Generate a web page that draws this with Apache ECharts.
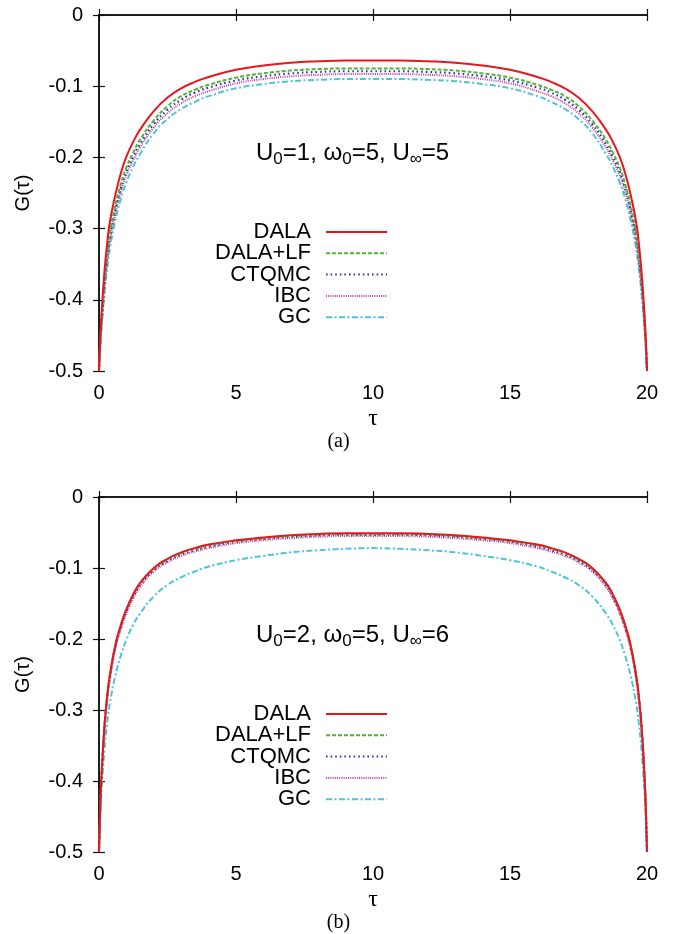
<!DOCTYPE html>
<html>
<head>
<meta charset="utf-8">
<script src="https://cdn.jsdelivr.net/npm/echarts@6/dist/echarts.min.js"></script>
<style>
  html, body { margin: 0; padding: 0; background: #fff; }
  #chart { width: 677px; height: 934px; }
</style>
</head>
<body>
<div id="chart"></div>
<script>
// imaginary-time grid, beta = 20
const tau = [0,0.05,0.1,0.2,0.3,0.4,0.6,0.8,1,1.25,1.5,2,2.5,3,3.5,4,5,6,7,8,9,10,
             11,12,13,14,15,16,16.5,17,17.5,18,18.5,18.75,19,19.2,19.4,19.6,19.7,19.8,19.9,19.95,20];

const seriesNames = ['DALA', 'DALA+LF', 'CTQMC', 'IBC', 'GC'];

// panel (a): U0=1, w0=5, Uinf=5
const topDALA = [-0.5,-0.45,-0.415,-0.36,-0.32,-0.29,-0.252,-0.222,-0.199,-0.178,-0.161,-0.135,-0.116,-0.103,-0.094,-0.087,-0.077,-0.071,-0.067,-0.065,-0.064,-0.064,
                 -0.064,-0.065,-0.067,-0.071,-0.077,-0.087,-0.094,-0.103,-0.116,-0.135,-0.161,-0.178,-0.199,-0.222,-0.252,-0.29,-0.32,-0.36,-0.415,-0.45,-0.5];
const topLF   = [-0.5,-0.455,-0.424,-0.373,-0.335,-0.306,-0.267,-0.237,-0.214,-0.193,-0.175,-0.148,-0.128,-0.114,-0.105,-0.098,-0.088,-0.082,-0.078,-0.076,-0.075,-0.075,
                 -0.075,-0.076,-0.078,-0.082,-0.088,-0.098,-0.105,-0.114,-0.128,-0.148,-0.175,-0.193,-0.214,-0.237,-0.267,-0.306,-0.335,-0.373,-0.424,-0.455,-0.5];
const topCTQMC= [-0.5,-0.458,-0.428,-0.378,-0.341,-0.312,-0.273,-0.243,-0.22,-0.199,-0.181,-0.153,-0.133,-0.119,-0.109,-0.102,-0.092,-0.086,-0.082,-0.08,-0.079,-0.079,
                 -0.079,-0.08,-0.082,-0.086,-0.092,-0.102,-0.109,-0.119,-0.133,-0.153,-0.181,-0.199,-0.22,-0.243,-0.273,-0.312,-0.341,-0.378,-0.428,-0.458,-0.5];
const topIBC  = [-0.5,-0.46,-0.432,-0.383,-0.346,-0.317,-0.278,-0.248,-0.225,-0.204,-0.186,-0.158,-0.138,-0.124,-0.114,-0.107,-0.096,-0.09,-0.086,-0.084,-0.083,-0.083,
                 -0.083,-0.084,-0.086,-0.09,-0.096,-0.107,-0.114,-0.124,-0.138,-0.158,-0.186,-0.204,-0.225,-0.248,-0.278,-0.317,-0.346,-0.383,-0.432,-0.46,-0.5];
const topGC   = [-0.5,-0.463,-0.437,-0.391,-0.355,-0.327,-0.288,-0.258,-0.235,-0.213,-0.195,-0.166,-0.146,-0.132,-0.122,-0.114,-0.103,-0.097,-0.093,-0.091,-0.09,-0.09,
                 -0.09,-0.091,-0.093,-0.097,-0.103,-0.114,-0.122,-0.132,-0.146,-0.166,-0.195,-0.213,-0.235,-0.258,-0.288,-0.327,-0.355,-0.391,-0.437,-0.463,-0.5];

// panel (b): U0=2, w0=5, Uinf=6
const botDALA = [-0.5,-0.43,-0.386,-0.322,-0.28,-0.25,-0.208,-0.18,-0.158,-0.137,-0.121,-0.1,-0.087,-0.078,-0.072,-0.067,-0.061,-0.057,-0.054,-0.052,-0.051,-0.051,
                 -0.051,-0.052,-0.054,-0.057,-0.061,-0.067,-0.072,-0.078,-0.087,-0.1,-0.121,-0.137,-0.158,-0.18,-0.208,-0.25,-0.28,-0.322,-0.386,-0.43,-0.5];
const botLF   = [-0.5,-0.431,-0.387,-0.323,-0.281,-0.251,-0.209,-0.181,-0.159,-0.138,-0.122,-0.101,-0.088,-0.079,-0.073,-0.068,-0.062,-0.058,-0.055,-0.053,-0.052,-0.052,
                 -0.052,-0.053,-0.055,-0.058,-0.062,-0.068,-0.073,-0.079,-0.088,-0.101,-0.122,-0.138,-0.159,-0.181,-0.209,-0.251,-0.281,-0.323,-0.387,-0.431,-0.5];
const botCTQMC= [-0.5,-0.432,-0.389,-0.325,-0.283,-0.253,-0.211,-0.183,-0.161,-0.14,-0.124,-0.103,-0.09,-0.081,-0.075,-0.07,-0.063,-0.059,-0.056,-0.054,-0.053,-0.053,
                 -0.053,-0.054,-0.056,-0.059,-0.063,-0.07,-0.075,-0.081,-0.09,-0.103,-0.124,-0.14,-0.161,-0.183,-0.211,-0.253,-0.283,-0.325,-0.389,-0.432,-0.5];
const botIBC  = [-0.5,-0.434,-0.392,-0.328,-0.286,-0.256,-0.214,-0.186,-0.164,-0.143,-0.127,-0.105,-0.092,-0.083,-0.077,-0.072,-0.065,-0.061,-0.058,-0.056,-0.055,-0.055,
                 -0.055,-0.056,-0.058,-0.061,-0.065,-0.072,-0.077,-0.083,-0.092,-0.105,-0.127,-0.143,-0.164,-0.186,-0.214,-0.256,-0.286,-0.328,-0.392,-0.434,-0.5];
const botGC   = [-0.5,-0.445,-0.41,-0.356,-0.318,-0.29,-0.251,-0.223,-0.201,-0.18,-0.164,-0.14,-0.124,-0.113,-0.105,-0.098,-0.089,-0.083,-0.078,-0.075,-0.073,-0.072,
                 -0.073,-0.075,-0.078,-0.083,-0.089,-0.098,-0.105,-0.113,-0.124,-0.14,-0.164,-0.18,-0.201,-0.223,-0.251,-0.29,-0.318,-0.356,-0.41,-0.445,-0.5];

const xTicks = [0, 5, 10, 15, 20];
const yTicks = [-0.5, -0.4, -0.3, -0.2, -0.1, 0];

const styles = [
  { color: '#e8161e', type: 'solid', width: 2 },
  { color: '#55b236', type: [4, 2], width: 2 },
  { color: '#2a3aa4', type: [1.6, 3], width: 2.2 },
  { color: '#c040a8', type: [1, 1.2], width: 2 },
  { color: '#4cc4dc', type: [6, 2.5, 2, 2.5], width: 2 }
];

const panels = [
  { top: 15, height: 356, data: [topDALA, topLF, topCTQMC, topIBC, topGC],
    note: '{t|U}{s|0}{t|=1, ω}{s|0}{t|=5, U}{s|∞}{t|=5}', tag: '(a)' },
  { top: 497, height: 355, data: [botDALA, botLF, botCTQMC, botIBC, botGC],
    note: '{t|U}{s|0}{t|=2, ω}{s|0}{t|=5, U}{s|∞}{t|=6}', tag: '(b)' }
];

const SANS = '"Liberation Sans", Arial, Helvetica, sans-serif';
const SERIF = '"Liberation Serif", "Times New Roman", serif';

const grid = [], xAxis = [], yAxis = [], series = [], legend = [], graphic = [];
const axisLine = { show: true, lineStyle: { color: '#111', width: 1.5 } };
const tick = { show: true, inside: true, length: 6, lineStyle: { color: '#111', width: 1.2 } };

panels.forEach((p, k) => {
  grid.push({ left: 99, right: 30, top: p.top, height: p.height, containLabel: false });
  // bottom + top x axes
  xAxis.push({
    type: 'value', gridIndex: k, min: xTicks[0], max: xTicks[xTicks.length - 1], interval: 5,
    position: 'bottom', axisLine, axisTick: tick, splitLine: { show: false },
    axisLabel: { fontSize: 20, fontFamily: SANS, color: '#000', margin: 12 },
    name: 'τ', nameLocation: 'middle', nameGap: 36,
    nameTextStyle: { fontSize: 24, fontFamily: SERIF, color: '#000' }
  });
  xAxis.push({
    type: 'value', gridIndex: k, min: 0, max: 20, interval: 5, position: 'top',
    axisLine, axisTick: tick, axisLabel: { show: false }, splitLine: { show: false }
  });
  // left + right y axes
  yAxis.push({
    type: 'value', gridIndex: k, min: yTicks[0], max: yTicks[yTicks.length - 1], interval: 0.1,
    position: 'left', axisLine, axisTick: tick, splitLine: { show: false },
    axisLabel: { fontSize: 20, fontFamily: SANS, color: '#000', margin: 16,
                 formatter: v => (Math.abs(v) < 1e-9 ? '0' : String(+v.toFixed(1))) },
    name: 'G(τ)', nameLocation: 'middle', nameGap: 66, nameRotate: 90,
    nameTextStyle: { fontSize: 20, fontFamily: SANS, color: '#000' }
  });
  yAxis.push({
    type: 'value', gridIndex: k, min: -0.5, max: 0, interval: 0.1, position: 'right',
    axisLine, axisTick: tick, axisLabel: { show: false }, splitLine: { show: false }
  });

  seriesNames.forEach((name, i) => {
    series.push({
      name, type: 'line', xAxisIndex: 2 * k, yAxisIndex: 2 * k,
      data: tau.map((t, j) => [t, p.data[i][j]]),
      showSymbol: false, symbol: 'none', smooth: 0.5,
      lineStyle: styles[i], itemStyle: { color: styles[i].color },
      z: 10 - i, animation: false
    });
    legend.push({
      data: [name], right: 284, top: p.top + 201 + i * 21.3, orient: 'horizontal',
      align: 'right', itemWidth: 61, itemHeight: 12, selectedMode: false,
      itemStyle: { opacity: 0 },
      textStyle: { fontSize: 22, fontFamily: SANS, color: '#000', padding: [0, 10, 0, 0] }
    });
  });

  graphic.push({
    type: 'text', left: 256, top: p.top + 126,
    style: {
      text: p.note, fill: '#000',
      rich: {
        t: { fontSize: 24, fontFamily: SANS, lineHeight: 30, verticalAlign: 'middle' },
        s: { fontSize: 17, fontFamily: SANS, lineHeight: 17, verticalAlign: 'bottom' }
      }
    }
  });
  graphic.push({
    type: 'text', left: 'center', top: p.top + p.height + 61,
    style: { text: p.tag, fontSize: 20, fontFamily: SERIF, fill: '#000' }
  });
});

const chart = echarts.init(document.getElementById('chart'), null, { renderer: 'canvas' });
chart.setOption({
  animation: false,
  backgroundColor: '#fff',
  grid, xAxis, yAxis, series, legend, graphic
});
</script>
</body>
</html>
